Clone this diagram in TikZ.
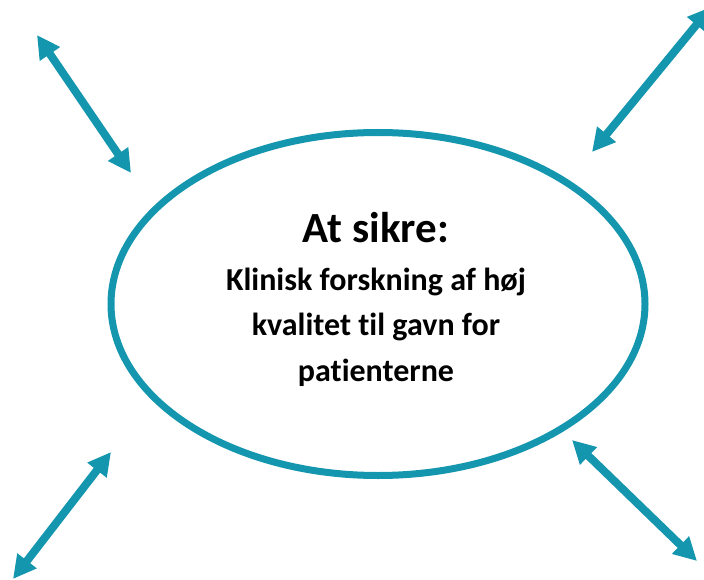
\documentclass[tikz,border=0pt]{standalone}
\usepackage{fontspec}
\setmainfont{Carlito}[Ligatures=NoCommon]
\usetikzlibrary{shapes.geometric, arrows.meta}
\definecolor{ringteal}{RGB}{20,150,175}
\tikzstyle{link} = [line width=8pt, draw=ringteal, {Triangle[length=23pt,width=23pt]}-{Triangle[length=23pt,width=23pt]}]
\tikzstyle{txt} = [anchor=base, inner sep=0pt, font=\bfseries\fontsize{32}{38}\selectfont]

\begin{document}
\begin{tikzpicture}[x=1pt, y=-1pt]
    \useasboundingbox (0,0) rectangle (704,580);
    \draw (378,304) node[ellipse, draw=ringteal, line width=7pt, minimum width=534pt, minimum height=343pt] (goal) {};
    \draw (376,242) node[txt, font=\bfseries\fontsize{43}{50}\selectfont] (head) {At sikre:};
    \draw (376,290) node[txt] (l1) {Klinisk forskning af høj};
    \draw (376,335) node[txt] (l2) {kvalitet til gavn for};
    \draw (376,381) node[txt] (l3) {patienterne};
    \coordinate (tlo) at (37,35);   \coordinate (tli) at (131,173);
    \coordinate (tro) at (711,7);   \coordinate (tri) at (592,152);
    \coordinate (blo) at (13,579);  \coordinate (bli) at (111,452);
    \coordinate (bro) at (697,561); \coordinate (bri) at (572,440);
    \draw [link] (tlo) -- (tli);
    \draw [link] (tro) -- (tri);
    \draw [link] (blo) -- (bli);
    \draw [link] (bro) -- (bri);
\end{tikzpicture}
\end{document}
